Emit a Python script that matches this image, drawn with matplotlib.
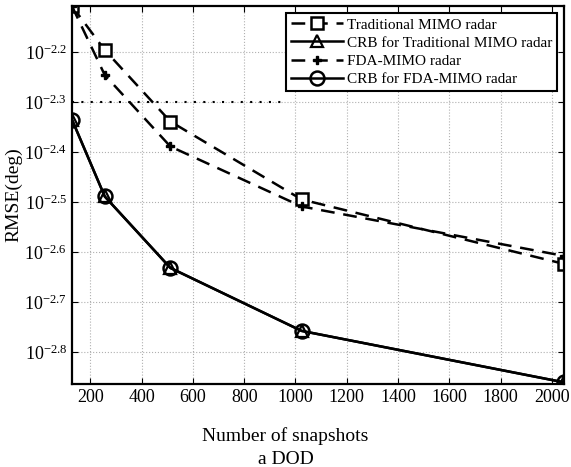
import numpy as np
import matplotlib
matplotlib.use("Agg")
import matplotlib.pyplot as plt

plt.rcParams['font.family'] = ['Liberation Serif', 'DejaVu Serif']
plt.rcParams['mathtext.fontset'] = 'custom'
plt.rcParams['mathtext.rm'] = 'Liberation Serif'
plt.rcParams['mathtext.it'] = 'Liberation Serif'

snapshots = [128, 256, 512, 1024, 2048]
# log10 of RMSE (deg)
trad_mimo = [-2.108, -2.196, -2.339, -2.495, -2.624]
fda_mimo = [-2.108, -2.246, -2.389, -2.509, -2.608]
crb_trad = [-2.335, -2.489, -2.632, -2.758, -2.861]
crb_fda = [-2.335, -2.489, -2.632, -2.758, -2.861]

ytick_exp = [-2.8, -2.7, -2.6, -2.5, -2.4, -2.3, -2.2]
xticks = [200, 400, 600, 800, 1000, 1200, 1400, 1600, 1800, 2000]

fig = plt.figure(figsize=(5.71, 4.67), dpi=100)
ax = fig.add_axes([0.126, 0.178, 0.862, 0.809])

to_val = lambda e: 10 ** np.array(e)
ax.plot(snapshots, to_val(trad_mimo), 'k--', lw=1.8, marker='s', ms=8,
        mfc='white', mew=1.8, dashes=(5.5, 3.5), label='Traditional MIMO radar')
ax.plot(snapshots, to_val(crb_trad), 'k-', lw=1.8, marker='^', ms=9,
        mfc='none', mew=1.6, label='CRB for Traditional MIMO radar')
ax.plot(snapshots, to_val(fda_mimo), 'k--', lw=1.8, marker='P', ms=6,
        dashes=(5.5, 3.5), label='FDA-MIMO radar')
ax.plot(snapshots, to_val(crb_fda), 'k-', lw=1.8, marker='o', ms=10,
        mfc='none', mew=1.8, label='CRB for FDA-MIMO radar')

ax.axhline(10 ** -2.3, xmin=0, xmax=0.435, color='k', ls=(0, (1, 3.5)), lw=1.5)

ax.set_yscale('log')
ax.set_xlim(128, 2048)
ax.set_ylim(10 ** -2.864, 10 ** -2.108)
ax.set_yticks(to_val(ytick_exp))
ax.set_yticklabels([r'$10^{%.1f}$' % e for e in ytick_exp])
ax.minorticks_off()
ax.set_xticks(xticks)
ax.tick_params(direction='in', top=True, right=True, labelsize=13, length=4)
ax.grid(True, ls=':', color='#b0b0b0', lw=0.8)
for s in ax.spines.values():
    s.set_linewidth(1.6)

ax.set_ylabel('RMSE(deg)', fontsize=14)
ax.yaxis.set_label_coords(-0.1, 0.5)
fig.text(0.5, 0.066, 'Number of snapshots', ha='center', va='center', fontsize=14)
fig.text(0.5, 0.017, 'a DOD', ha='center', va='center', fontsize=14)

leg = ax.legend(loc='upper right', bbox_to_anchor=(0.986, 0.981), fontsize=11,
                fancybox=False, edgecolor='k', framealpha=1, handlelength=3.4,
                borderpad=0.3, labelspacing=0.3, handletextpad=0.3,
                borderaxespad=0)
leg.get_frame().set_linewidth(1.5)

fig.savefig('out.png', dpi=100)
